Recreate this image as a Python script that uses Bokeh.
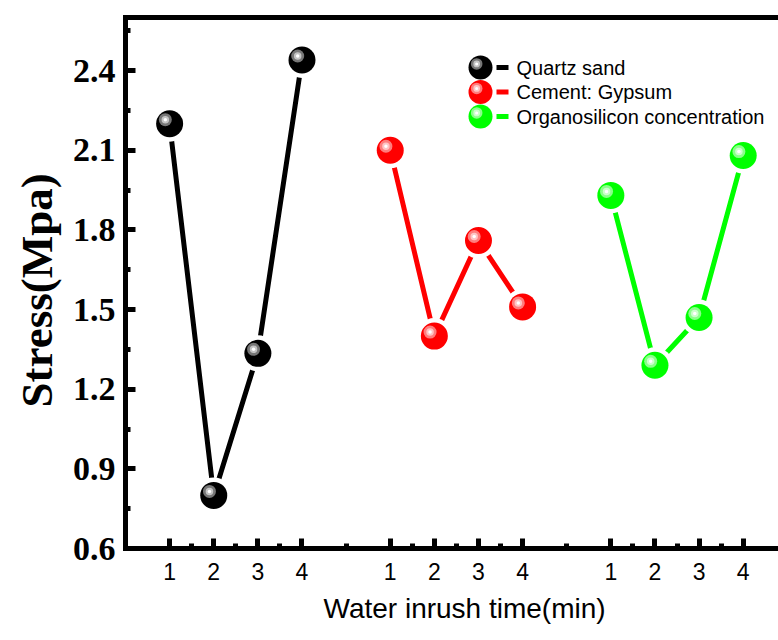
from bokeh.plotting import figure
from bokeh.models import FixedTicker, LinearAxis, PrintfTickFormatter, Range1d, Title
from bokeh.core.properties import value
from bokeh.embed import file_html
from bokeh.resources import INLINE

# ---------------- data ----------------
series_names = ["Quartz sand", "Cement: Gypsum", "Organosilicon concentration"]
time_labels = ["1", "2", "3", "4"]
times = [1, 2, 3, 4]
quartz_sand = [2.20, 0.80, 1.335, 2.44]
cement_gypsum = [2.10, 1.40, 1.76, 1.51]
organosilicon = [1.93, 1.29, 1.47, 2.08]
y_ticks = [0.6, 0.9, 1.2, 1.5, 1.8, 2.1, 2.4]
series_values = [quartz_sand, cement_gypsum, organosilicon]
x_title = "Water inrush time(min)"
y_title = "Stress(Mpa)"

# ---------------- style ----------------
colors = ["#000000", "#ff0000", "#00ff00"]
mid_colors = ["#777777", "#ff7d7d", "#8aff8a"]
light_colors = ["#c4c4c4", "#ffc4c4", "#ccffcc"]
GROUP_STEP = 5
X0, X1, Y0, Y1 = 0.0, 14.8, 0.6, 2.6
W, H = 778, 640
ML, MR, MT, MB = 125, 0, 17, 92
px_x = (X1 - X0) / (W - ML - MR)   # data units per pixel
px_y = (Y1 - Y0) / (H - MT - MB)

p = figure(width=W, height=H, output_backend="svg", toolbar_location=None,
           x_range=Range1d(X0, X1), y_range=Range1d(Y0, Y1),
           min_border_left=ML, min_border_right=MR, min_border_top=MT, min_border_bottom=MB)
p.outline_line_color = None
p.grid.visible = False
p.background_fill_color = "white"
p.border_fill_color = "white"

# ---------------- x axis ----------------
major_x = [t + GROUP_STEP * g for g in range(len(series_names)) for t in times]
minor_x = [(a + b) / 2 for a, b in zip(major_x[:-1], major_x[1:])]
xa = p.xaxis[0]
xa.ticker = FixedTicker(ticks=major_x, minor_ticks=minor_x)
xa.major_label_overrides = {float(x): time_labels[i % len(times)] for i, x in enumerate(major_x)}
xa.major_label_text_font = "Liberation Sans"
xa.major_label_text_font_size = "23px"
xa.major_label_standoff = 14

p.add_layout(Title(text=x_title, align="left", offset=198, standoff=17, vertical_align="bottom",
                   text_font="Liberation Sans", text_font_size="28px",
                   text_font_style="normal", text_color="black"), "below")

# ---------------- y axis ----------------
ya = p.yaxis[0]
minor_y = [(a + b) / 2 for a, b in zip(y_ticks[:-1], y_ticks[1:])] + [y_ticks[-1] + (y_ticks[1] - y_ticks[0]) / 2]
ya.ticker = FixedTicker(ticks=y_ticks, minor_ticks=minor_y)
ya.formatter = PrintfTickFormatter(format="%.1f")
ya.major_label_text_font = "Liberation Serif"
ya.major_label_text_font_style = "bold"
ya.major_label_text_font_size = "34px"
ya.major_label_standoff = 10

p.add_layout(Title(text=y_title, align="left", offset=141, standoff=16, vertical_align="bottom",
                   text_font="Liberation Serif", text_font_size="45px",
                   text_font_style="bold", text_color="black"), "left")

top = LinearAxis(ticker=FixedTicker(ticks=[]), major_label_text_font_size="0px")
p.add_layout(top, "above")

for ax in [xa, ya, top]:
    ax.axis_line_width = 5
    ax.axis_line_color = "black"
    ax.axis_line_cap = "square"
    ax.major_tick_in = 10
    ax.major_tick_out = 0
    ax.minor_tick_in = 5
    ax.minor_tick_out = 0
    ax.major_tick_line_width = 5
    ax.minor_tick_line_width = 5
    ax.major_tick_line_color = "black"
    ax.minor_tick_line_color = "black"
    ax.major_label_text_color = "black"
top.major_tick_line_color = None
top.minor_tick_line_color = None


def ball(xs, ys, i, size):
    s = size / 27.0
    p.scatter(xs, ys, size=size, marker="circle", fill_color=colors[i], line_color=None)
    hx = [x - 4.3 * s * px_x for x in xs]
    hy = [y + 4.0 * s * px_y for y in ys]
    p.scatter(hx, hy, size=13 * s, marker="circle", fill_color=mid_colors[i], line_color=None)
    p.scatter(hx, hy, size=7.5 * s, marker="circle", fill_color=light_colors[i], line_color=None)
    p.scatter(hx, hy, size=3.5 * s, marker="circle", fill_color="white", line_color=None)


# ---------------- series ----------------
for i, vals in enumerate(series_values):
    xs = [t + GROUP_STEP * i for t in times]
    p.line(xs, vals, line_color=colors[i], line_width=5)
    p.scatter(xs, vals, size=36, marker="circle", fill_color="white", line_color=None)
    ball(xs, vals, i, 27)

# ---------------- legend (drawn manually) ----------------
lx = X0 + (480 - ML) * px_x
ly = Y1 - (67 - MT) * px_y
row = 24.5 * px_y
for i, name in enumerate(series_names):
    yy = ly - i * row
    ball([lx], [yy], i, 24)
    p.segment(x0=[lx + 16 * px_x], y0=[yy], x1=[lx + 28 * px_x], y1=[yy],
              line_color=colors[i], line_width=5)
    p.text(x=[lx + 36 * px_x], y=[yy], text=[name], text_font=value("Liberation Sans"),
           text_font_size="20px", text_baseline="middle", text_align="left", text_color="black")

open("out.html", "w").write(file_html(p, INLINE))
